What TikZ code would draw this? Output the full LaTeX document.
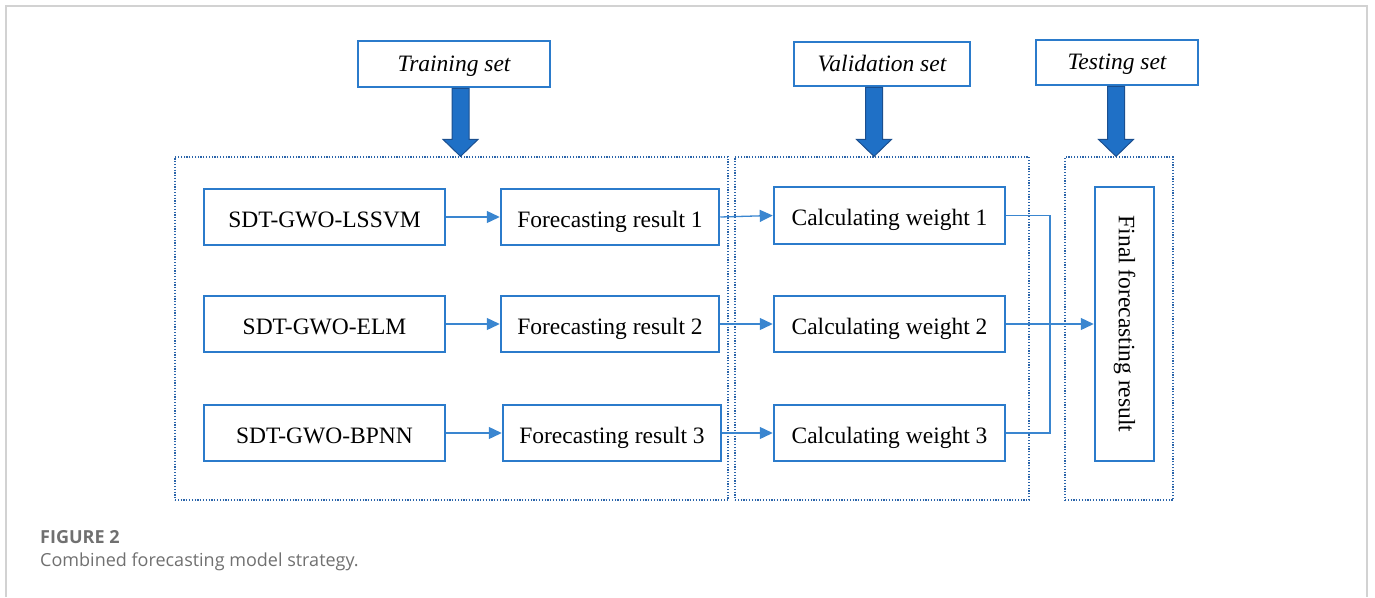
\documentclass[tikz,border=0pt]{standalone}
\usepackage{fontspec}
\setmainfont{Liberation Serif}
\newfontfamily\capfont{Open Sans}
\usetikzlibrary{arrows.meta,calc}
\definecolor{boxblue}{HTML}{2B7BCB}
\definecolor{lineblue}{HTML}{3A86D0}
\definecolor{dotblue}{HTML}{2A64AA}
\definecolor{arrfill}{HTML}{1F70C6}
\definecolor{arredge}{HTML}{1B4F8F}
\definecolor{capgray}{HTML}{707070}
\newcommand\myBigArrow[3]{%
  \filldraw[bigarr]
    ($(#1.south)+(#3-8.5,0)$) -- ($(#1.south)+(#3+8.5,0)$)
    -- ($(#1.south |- #2.north)+(#3+8.5,17)$) -- ($(#1.south |- #2.north)+(#3+17.5,17)$)
    -- ($(#1.south |- #2.north)+(#3,0)$)
    -- ($(#1.south |- #2.north)+(#3-17.5,17)$) -- ($(#1.south |- #2.north)+(#3-8.5,17)$) -- cycle;}
\tikzset{
  x=1pt, y=1pt,
  every node/.style={font=\fontsize{23.5}{28}\selectfont, inner sep=0pt},
  box/.style={draw=boxblue, line width=2.5pt, fill=white, align=center, text height=20pt, text depth=0pt},
  setbox/.style={draw=boxblue, line width=2.5pt, fill=white, align=center, text height=14pt, text depth=0pt,
    font=\fontsize{23.5}{28}\selectfont\itshape},
  cont/.style={draw=dotblue, line width=1.2pt, dash pattern=on 1.2pt off 1.6pt},
  conn/.style={draw=lineblue, line width=1.3pt, -{Triangle[length=13pt,width=12pt]}},
  plain/.style={draw=lineblue, line width=1.3pt},
  bigarr/.style={fill=arrfill, draw=arredge, line width=1pt, line join=miter},
  captext/.style={anchor=base west, text=capgray, font=\capfont\fontsize{18}{21}\selectfont},
}
\begin{document}
\begin{tikzpicture}
\useasboundingbox (0,0) rectangle (1375,-597);
\draw[gray!35, line width=2pt] (6,-597) -- (6,-6) -- (1367,-6) -- (1367,-597);

% containers
\node[cont, minimum width=553, minimum height=343] (tc) at (451.5,-328.5) {};
\node[cont, minimum width=294, minimum height=343] (vc) at (882,-328.5) {};
\node[cont, minimum width=108, minimum height=343] (ec) at (1119,-328.5) {};

% set boxes
\node[setbox, minimum width=192, minimum height=46] (ts) at (454,-64) {Training set};
\node[setbox, minimum width=176, minimum height=44] (vs) at (882,-64) {Validation set};
\node[setbox, minimum width=162, minimum height=45] (es) at (1117,-62.5) {Testing set};

\myBigArrow{ts}{tc}{6.5}
\myBigArrow{vs}{vc}{-8}
\myBigArrow{es}{ec}{-1}

% models
\node[box, minimum width=241, minimum height=56] (m1) at (324.5,-217) {SDT-GWO-LSSVM};
\node[box, minimum width=241, minimum height=56] (m2) at (324.5,-324) {SDT-GWO-ELM};
\node[box, minimum width=241, minimum height=56] (m3) at (324.5,-433) {SDT-GWO-BPNN};

\node[box, minimum width=218, minimum height=56] (f1) at (610,-217) {Forecasting result 1};
\node[box, minimum width=218, minimum height=56] (f2) at (610,-324) {Forecasting result 2};
\node[box, minimum width=218, minimum height=56] (f3) at (612,-433) {Forecasting result 3};

\node[box, minimum width=231, minimum height=57] (w1) at (889.5,-215.5) {Calculating weight 1};
\node[box, minimum width=231, minimum height=56] (w2) at (889.5,-324) {Calculating weight 2};
\node[box, minimum width=231, minimum height=56] (w3) at (889.5,-433) {Calculating weight 3};

\node[box, minimum width=59, minimum height=274] (fin) at (1124.5,-324) {};
\node[rotate=-90] (fint) at (fin.center) {Final forecasting result};

% connectors
\draw[conn] (m1) -- (f1);
\draw[conn] (m2) -- (f2);
\draw[conn] (m3) -- (f3);
\draw[conn] (f1.east) -- (w1.west);
\draw[conn] (f2.east) -- (w2.west);
\draw[conn] (f3.east) -- (w3.west);
\coordinate (jn) at (1050,-215.5);
\draw[plain] (w1.east) -- (jn) |- (w3.east);
\draw[conn] (w2.east) -- (fin.west);

% caption
\node[captext, font=\capfont\bfseries\fontsize{18}{21}\selectfont] (c1) at (40,-543) {FIGURE 2};
\node[captext] (c2) at (40,-566) {Combined forecasting model strategy.};
\end{tikzpicture}
\end{document}
